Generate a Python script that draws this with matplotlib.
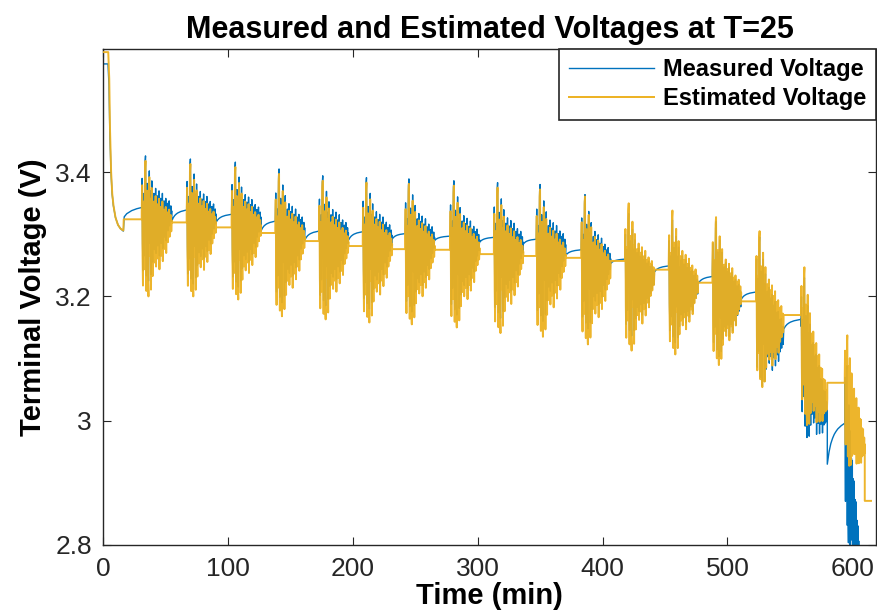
import numpy as np
import matplotlib
matplotlib.use("Agg")
import matplotlib.pyplot as plt

# ---------------- data ----------------
# initial relaxation (time in min, voltage in V)
init_t_meas = [0, 4.0, 4.8, 5.4, 6.4, 7.3, 8.3, 10, 12, 14, 16.3, 17.0, 19, 23, 27, 31]
init_v_meas = [3.574, 3.574, 3.54, 3.47, 3.40, 3.365, 3.346, 3.327, 3.315, 3.309, 3.305,
               3.328, 3.333, 3.338, 3.341, 3.343]
init_t_est = [0, 4.2, 5.0, 5.6, 6.5, 7.4, 8.4, 10, 12, 14, 16.3, 16.6, 31]
init_v_est = [3.593, 3.593, 3.55, 3.47, 3.40, 3.365, 3.346, 3.327, 3.315, 3.309, 3.306,
              3.324, 3.324]

# pulse groups
cycle_start = [31, 67, 103, 138, 173, 208, 242, 278, 313, 347, 383, 418, 453, 488, 523, 559, 594]
est_len = [24, 23.5, 23.5, 23.5, 23.5, 23.5, 23.5, 23.5, 23.5, 23.5, 23.5, 23.5, 23.5, 23, 22, 21, 16]
meas_len = [24, 23.5, 23.5, 23.5, 23.5, 23.5, 23.5, 23.5, 23.5, 23.5, 23.5, 23.5, 23.5, 23, 22, 21, 13]

est_hi = [3.418, 3.413, 3.408, 3.397, 3.386, 3.383, 3.381, 3.378, 3.375, 3.372, 3.362,
          3.351, 3.340, 3.330, 3.310, 3.262, 3.150]
est_lo = [3.200, 3.200, 3.195, 3.168, 3.163, 3.158, 3.155, 3.150, 3.141, 3.135, 3.125,
          3.115, 3.110, 3.094, 3.063, 3.020, 2.950]
est_sag = [0, 0, 0, 0, 0, 0, 0, 0, 0, 0, 0.01, 0.01, 0.015, 0.02, 0.04, 0.12, 0.10]

meas_hi = [3.426, 3.421, 3.416, 3.405, 3.394, 3.391, 3.389, 3.386, 3.383, 3.380, 3.365,
           3.335, 3.325, 3.324, 3.303, 3.245, 3.120]
meas_lo = [3.225, 3.220, 3.215, 3.190, 3.185, 3.180, 3.175, 3.170, 3.165, 3.160, 3.150,
           3.140, 3.130, 3.110, 3.070, 3.000, 2.860]
meas_sag = [0, 0, 0, 0, 0, 0, 0, 0, 0, 0, 0.01, 0.015, 0.02, 0.03, 0.06, 0.12, 0.25]

# rest periods after each group
est_rest = [3.319, 3.311, 3.302, 3.289, 3.281, 3.276, 3.275, 3.268, 3.265, 3.262, 3.257,
            3.243, 3.222, 3.192, 3.170, 3.061, 2.871]
meas_rest_from = [3.321, 3.319, 3.305, 3.290, 3.290, 3.292, 3.290, 3.287, 3.284, 3.266,
                  3.253, 3.239, 3.220, 3.195, 3.147, 2.930]
meas_rest_to = [3.339, 3.332, 3.321, 3.305, 3.304, 3.301, 3.297, 3.295, 3.292, 3.275,
                3.260, 3.249, 3.232, 3.207, 3.163, 2.996]
est_end_time = 615

# shape of a pulse train (0 = deepest dip, 1 = highest spike), read from one group
pulse_pattern = [
    0.62, 0.82, 0.30, 0.08, 0.55, 0.70, 0.20, 0.60,
    0.95, 1.00, 0.40, 0.04, 0.50, 0.78, 0.62, 0.10,
    0.00, 0.66, 0.88, 0.45, 0.30, 0.72, 0.05, 0.58,
    0.80, 0.35, 0.15, 0.64, 0.42, 0.70, 0.25, 0.55,
    0.38, 0.74, 0.22, 0.60, 0.45, 0.68, 0.28, 0.57,
    0.40, 0.72, 0.20, 0.62, 0.44, 0.66, 0.30, 0.58,
    0.47, 0.70, 0.26, 0.60, 0.45, 0.64, 0.35, 0.60,
    0.48, 0.66, 0.32, 0.58, 0.50, 0.62, 0.40, 0.60,
    0.52, 0.64, 0.44, 0.58, 0.50, 0.60, 0.48, 0.56,
]
# shape of the measured voltage recovery during rest (fraction of recovery)
relax_shape = [0.0, 0.30, 0.50, 0.63, 0.73, 0.80, 0.86, 0.90, 0.94, 0.97, 1.0]

# ---------------- build series ----------------
t_m, v_m = list(init_t_meas), list(init_v_meas)
t_e, v_e = list(init_t_est), list(init_v_est)
n = len(pulse_pattern)
nc = len(cycle_start)
for k, t0 in enumerate(cycle_start):
    for i, f in enumerate(pulse_pattern):
        s = i / (n - 1)
        t_e.append(t0 + s * est_len[k])
        v_e.append(est_lo[k] + f * (est_hi[k] - est_lo[k]) - est_sag[k] * s)
        t_m.append(t0 + s * meas_len[k])
        v_m.append(meas_lo[k] + f * (meas_hi[k] - meas_lo[k]) - meas_sag[k] * s)
    t_next = cycle_start[k + 1] if k + 1 < nc else est_end_time
    t_e += [t0 + est_len[k], t_next]
    v_e += [est_rest[k], est_rest[k]]
    if k + 1 < nc:
        ta = t0 + meas_len[k]
        m = len(relax_shape)
        for j, r in enumerate(relax_shape):
            t_m.append(ta + (t_next - ta) * j / (m - 1))
            v_m.append(meas_rest_from[k] + r * (meas_rest_to[k] - meas_rest_from[k]))

# ---------------- plot ----------------
fig = plt.figure(figsize=(8.78, 6.15), dpi=100)
ax = fig.add_axes([103 / 878, 70 / 615, 773 / 878, 496 / 615])

blue = "#0072BD"
yellow = "#EDB120"
ax.plot(t_m, v_m, color=blue, lw=1.0, label="Measured Voltage", zorder=2)
ax.plot(t_e, v_e, color=yellow, lw=1.4, alpha=0.95, label="Estimated Voltage", zorder=3)

ax.set_xlim(0, 619)
ax.set_ylim(2.8, 3.598)
ax.set_xticks([0, 100, 200, 300, 400, 500, 600])
ax.set_yticks([2.8, 3.0, 3.2, 3.4])
ax.set_yticklabels(["2.8", "3", "3.2", "3.4"])

font = ["Liberation Sans", "DejaVu Sans"]
dark = "#262626"
for sp in ax.spines.values():
    sp.set_color(dark)
    sp.set_linewidth(1.0)
ax.tick_params(direction="in", length=6, width=0.8, top=True, right=True, colors=dark,
               labelsize=19)
ax.tick_params(axis="x", pad=9)
ax.tick_params(axis="y", pad=8)
for lab in ax.get_xticklabels() + ax.get_yticklabels():
    lab.set_family(font)

ax.set_title("Measured and Estimated Voltages at T=25", fontsize=22, fontweight="bold",
             family=font, pad=8)
ax.set_xlabel("Time (min)", fontsize=21, fontweight="bold", family=font, labelpad=0)
ax.set_ylabel("Terminal Voltage (V)", fontsize=21, fontweight="bold", family=font, labelpad=6)

leg = ax.legend(loc="upper right", borderaxespad=0, fancybox=False, framealpha=1,
                handlelength=3.6, handletextpad=0.4, labelspacing=0.25,
                prop={"family": font, "weight": "bold", "size": 17})
leg.get_frame().set_edgecolor(dark)
leg.get_frame().set_linewidth(1.2)
for h in leg.get_lines():
    h.set_alpha(1.0)

fig.savefig("out.png", dpi=100)
